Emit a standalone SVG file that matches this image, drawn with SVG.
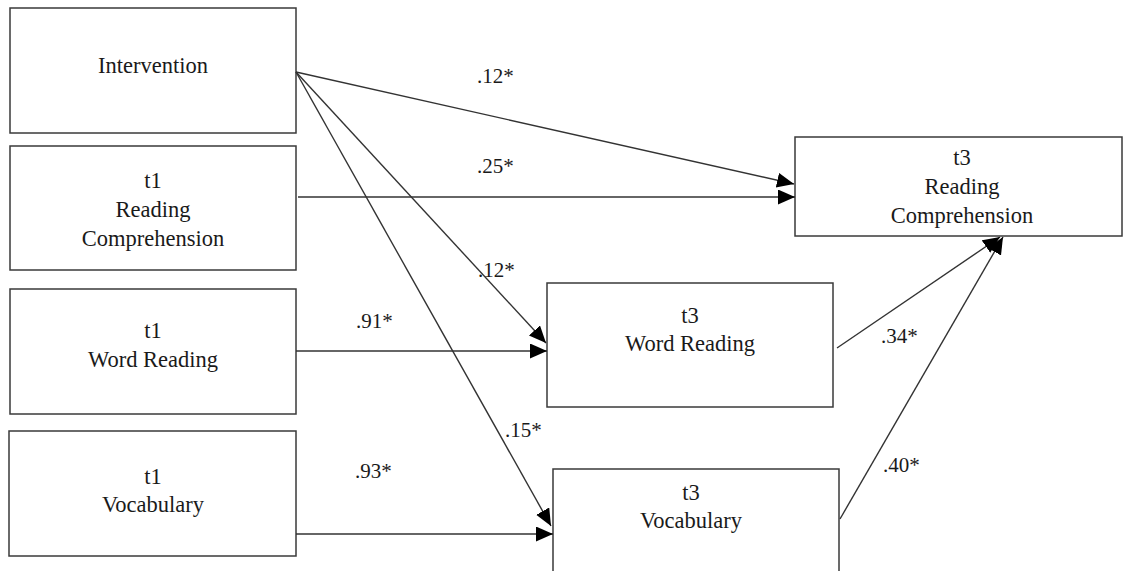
<svg xmlns="http://www.w3.org/2000/svg" width="1128" height="571" viewBox="0 0 1128 571">
<style>
.box{fill:#fff;stroke:#3a3a3a;stroke-width:1.5}
.t{font-family:'Liberation Serif','Times New Roman',Times,'DejaVu Serif',serif;font-size:22.5px;fill:#1a1a1a;text-anchor:middle}
.lbl{font-family:'Liberation Serif','Times New Roman',Times,'DejaVu Serif',serif;font-size:21px;fill:#1a1a1a}
.c{stroke:#333;stroke-width:1.4;fill:none;marker-end:url(#ah)}
</style>
<defs>
<marker id="ah" markerUnits="userSpaceOnUse" markerWidth="20" markerHeight="18" refX="17" refY="7.5" orient="auto">
<path d="M0,0 L17,7.5 L0,15 z" fill="#000"/>
</marker>
</defs>
<rect width="1128" height="571" fill="#fff"/>
<g id="n-intervention"><rect class="box" x="10" y="8" width="286" height="125"/><text class="t" font-family="Liberation Serif, serif" x="153" y="73">Intervention</text></g>
<g id="n-t1rc"><rect class="box" x="10" y="146" width="286" height="124"/><text class="t" x="153" y="188">t1</text><text class="t" x="153" y="217">Reading</text><text class="t" x="153" y="246">Comprehension</text></g>
<g id="n-t1wr"><rect class="box" x="10" y="289" width="286" height="125"/><text class="t" x="153" y="338">t1</text><text class="t" x="153" y="367">Word Reading</text></g>
<g id="n-t1voc"><rect class="box" x="9" y="431" width="287" height="125"/><text class="t" x="153" y="484">t1</text><text class="t" x="153" y="512">Vocabulary</text></g>
<g id="n-t3rc"><rect class="box" x="795" y="137" width="327" height="99"/><text class="t" x="962" y="165">t3</text><text class="t" x="962" y="194">Reading</text><text class="t" x="962" y="223">Comprehension</text></g>
<g id="n-t3wr"><rect class="box" x="547" y="283" width="286" height="124"/><text class="t" x="690" y="323">t3</text><text class="t" x="690" y="351">Word Reading</text></g>
<g id="n-t3voc"><rect class="box" x="553" y="469" width="286" height="125"/><text class="t" x="691" y="500">t3</text><text class="t" x="691" y="528">Vocabulary</text></g>
<g id="connectors">
<line class="c" x1="296" y1="72" x2="794" y2="184"/>
<line class="c" x1="298" y1="197" x2="795" y2="197"/>
<line class="c" x1="296" y1="72" x2="546" y2="343"/>
<line class="c" x1="296" y1="351" x2="547" y2="351"/>
<line class="c" x1="296" y1="72" x2="551" y2="526"/>
<line class="c" x1="296" y1="534" x2="553" y2="534"/>
<line class="c" x1="837" y1="348" x2="1000" y2="237"/>
<line class="c" x1="840" y1="519" x2="1003" y2="237"/>
</g>
<g id="labels">
<text class="lbl" x="477" y="83">.12*</text>
<text class="lbl" x="477" y="173">.25*</text>
<text class="lbl" x="478" y="277">.12*</text>
<text class="lbl" x="356" y="328">.91*</text>
<text class="lbl" x="505" y="437">.15*</text>
<text class="lbl" x="355" y="478">.93*</text>
<text class="lbl" x="881" y="343">.34*</text>
<text class="lbl" x="883" y="472">.40*</text>
</g>
</svg>
